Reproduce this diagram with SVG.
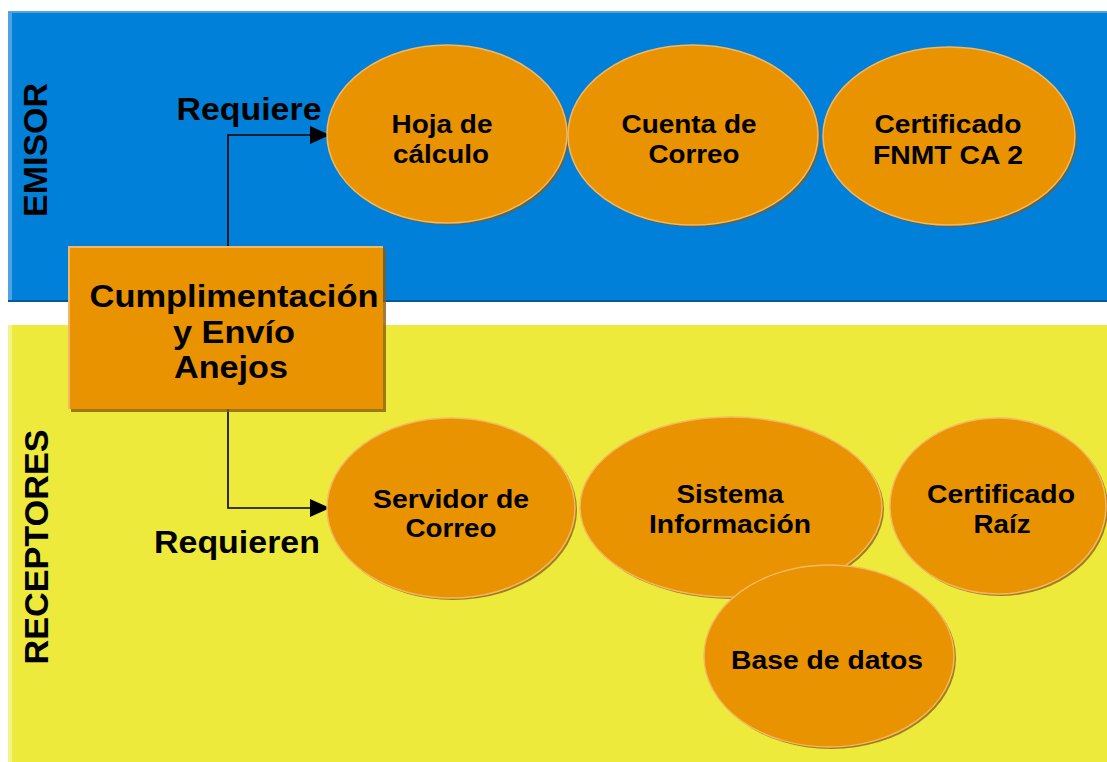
<svg xmlns="http://www.w3.org/2000/svg" width="1107" height="762" viewBox="0 0 1107 762">
<defs>
<style>
.t{font-family:"Liberation Sans",Arial,sans-serif;font-weight:bold;fill:#000;text-anchor:middle}
.lane{font-family:"Liberation Sans",Arial,sans-serif;font-weight:bold;font-size:33px;fill:#000;text-anchor:middle}
.et{font-size:26px}
.bt{font-size:31px}
.lbl{font-size:31px}
.ell{fill:#ea9300;stroke:#f2b867;stroke-width:1.5}
.shd{fill:#8a5a10;opacity:0.75}
.con{fill:none;stroke:#000;stroke-width:1.6}
</style>
<marker id="arr" viewBox="0 0 20 18" refX="20" refY="9" markerWidth="20" markerHeight="18" markerUnits="userSpaceOnUse" orient="auto">
<path d="M0,0 L20,9 L0,18 Z" fill="#000"/>
</marker>
</defs>
<rect width="1107" height="762" fill="#fff"/>
<g id="lane-emisor">
<rect x="8" y="11" width="1099" height="291" fill="#005a9a"/>
<rect x="8" y="11" width="1099" height="289" fill="#0080d8"/>
<rect x="8" y="11" width="4" height="289" fill="#4fa3e3"/>
<rect x="8" y="11" width="1099" height="2" fill="#4fa3e3"/>
<text class="lane" transform="translate(47,150) rotate(-90)" textLength="134" lengthAdjust="spacingAndGlyphs">EMISOR</text>
</g>
<g id="lane-receptores">
<rect x="8" y="325" width="1099" height="437" fill="#eeea3c"/>
<rect x="8" y="325" width="4" height="437" fill="#f5f28a"/>
<text class="lane" transform="translate(48,547) rotate(-90)" textLength="235" lengthAdjust="spacingAndGlyphs">RECEPTORES</text>
</g>
<g id="connectors">
<polyline class="con" points="228,246 228,135 330,135" marker-end="url(#arr)"/>
<polyline class="con" points="228,409 228,508 330,508" marker-end="url(#arr)"/>
<text class="t lbl" x="249" y="120" textLength="145" lengthAdjust="spacingAndGlyphs">Requiere</text>
<text class="t lbl" x="237" y="553" textLength="166" lengthAdjust="spacingAndGlyphs">Requieren</text>
</g>
<g id="node-cumplimentacion">
<rect x="71" y="249" width="315" height="163" fill="#8a5a10" opacity="0.8"/>
<rect x="68" y="246" width="315" height="163" fill="#ea9300"/>
<rect x="68" y="246" width="315" height="2" fill="#f2b867"/>
<rect x="68" y="246" width="2" height="163" fill="#f2b867"/>
<text class="t bt" x="234" y="307" textLength="289" lengthAdjust="spacingAndGlyphs">Cumplimentación</text>
<text class="t bt" x="234" y="343" textLength="122" lengthAdjust="spacingAndGlyphs">y Envío</text>
<text class="t bt" x="231" y="378" textLength="114" lengthAdjust="spacingAndGlyphs">Anejos</text>
</g>
<g id="node-hoja">
<ellipse class="shd" cx="449" cy="136" rx="120" ry="89"/>
<ellipse class="ell" cx="447" cy="134" rx="120" ry="89"/>
<text class="t et" x="442" y="133" textLength="101" lengthAdjust="spacingAndGlyphs">Hoja de</text>
<text class="t et" x="441" y="163" textLength="96" lengthAdjust="spacingAndGlyphs">cálculo</text>
</g>
<g id="node-cuenta">
<ellipse class="shd" cx="695" cy="137" rx="125" ry="90"/>
<ellipse class="ell" cx="693" cy="135" rx="125" ry="90"/>
<text class="t et" x="689" y="133" textLength="135" lengthAdjust="spacingAndGlyphs">Cuenta de</text>
<text class="t et" x="694" y="163" textLength="91" lengthAdjust="spacingAndGlyphs">Correo</text>
</g>
<g id="node-certfnmt">
<ellipse class="shd" cx="951" cy="138" rx="126" ry="89"/>
<ellipse class="ell" cx="949" cy="136" rx="126" ry="89"/>
<text class="t et" x="948" y="133" textLength="147" lengthAdjust="spacingAndGlyphs">Certificado</text>
<text class="t et" x="948" y="164" textLength="150" lengthAdjust="spacingAndGlyphs">FNMT CA 2</text>
</g>
<g id="node-servidor">
<ellipse class="shd" cx="453" cy="510" rx="124" ry="90"/>
<ellipse class="ell" cx="451" cy="508" rx="124" ry="90"/>
<text class="t et" x="451" y="508" textLength="156" lengthAdjust="spacingAndGlyphs">Servidor de</text>
<text class="t et" x="451" y="537" textLength="91" lengthAdjust="spacingAndGlyphs">Correo</text>
</g>
<g id="node-sistema">
<ellipse class="shd" cx="733" cy="509" rx="151" ry="90"/>
<ellipse class="ell" cx="731" cy="507" rx="151" ry="90"/>
<text class="t et" x="730" y="503" textLength="107" lengthAdjust="spacingAndGlyphs">Sistema</text>
<text class="t et" x="730" y="533" textLength="162" lengthAdjust="spacingAndGlyphs">Información</text>
</g>
<g id="node-certraiz">
<ellipse class="shd" cx="1000" cy="508" rx="108" ry="88"/>
<ellipse class="ell" cx="998" cy="506" rx="108" ry="88"/>
<text class="t et" x="1001" y="503" textLength="148" lengthAdjust="spacingAndGlyphs">Certificado</text>
<text class="t et" x="1002" y="533" textLength="57" lengthAdjust="spacingAndGlyphs">Raíz</text>
</g>
<g id="node-basedatos">
<ellipse class="shd" cx="831" cy="658" rx="125" ry="91"/>
<ellipse class="ell" cx="829" cy="656" rx="125" ry="91"/>
<text class="t et" x="827" y="669" textLength="192" lengthAdjust="spacingAndGlyphs">Base de datos</text>
</g>
</svg>
